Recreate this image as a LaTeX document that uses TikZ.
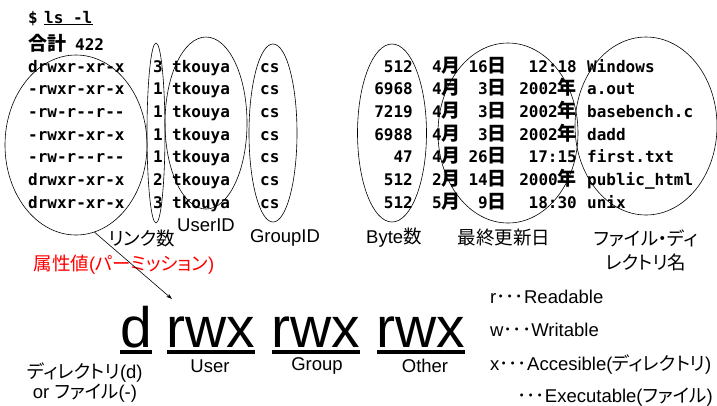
\documentclass[tikz,border=0pt]{standalone}
\usepackage{fontspec}
\setmainfont{Liberation Sans}
\setmonofont{DejaVu Sans Mono}
\newfontfamily\jp{Noto Sans CJK JP Medium}
\newfontfamily\jpp[RawFeature=+palt]{Noto Sans CJK JP}
\usetikzlibrary{shapes.geometric,arrows.meta}
\newcommand{\J}[1]{{\jp\fontsize{19}{19}\selectfont #1}}
\newcommand{\Jp}[1]{{\jpp #1}}
\tikzset{
  term/.style={inner sep=0pt, font=\ttfamily\bfseries\fontsize{16}{16}\selectfont},
  lbl/.style={inner sep=0pt, font=\fontsize{18.5}{24}\selectfont},
  big/.style={inner sep=0pt, anchor=base, text depth=0pt, font=\fontsize{57}{57}\selectfont},
  oval/.style={draw, ellipse, line width=0.6pt, inner sep=0pt},
  uline/.style={line width=4pt},
}
\begin{document}
\begin{tikzpicture}[x=1pt,y=-1pt]
\useasboundingbox (0,0) rectangle (717,405);
% header
\node[term, anchor=base west] (dollar) at (28,23) {\$};
\node[term, anchor=base west] (cmd) at (44,23) {ls -l};
\draw[line width=0.9pt] ([yshift=-1.2pt]cmd.base west) -- ([yshift=-1.2pt]cmd.base east);
\node[term, anchor=base west] (goukei) at (28,50) {\J{合計}};
\node[term, anchor=base west] (total) at (75,50) {422};
% rows
\foreach \pa/\lk/\sz/\mo/\dy/\tm/\nm [count=\i] in {
  drwxr-xr-x/3/512/4/16/12:18/Windows,
  -rwxr-xr-x/1/6968/4/3/2002\J{年}/a.out,
  -rw-r--r--/1/7219/4/3/2002\J{年}/basebench.c,
  -rwxr-xr-x/1/6988/4/3/2002\J{年}/dadd,
  -rw-r--r--/1/47/4/26/17:15/first.txt,
  drwxr-xr-x/2/512/2/14/2000\J{年}/public\_html,
  drwxr-xr-x/3/512/5/9/18:30/unix}
{
  \pgfmathsetmacro\yb{72+22.7*(\i-1)}
  \node[term, anchor=base west] (perm\i) at (28,\yb) {\pa};
  \node[term, anchor=base east] (link\i) at (163,\yb) {\lk};
  \node[term, anchor=base west] (user\i) at (172,\yb) {tkouya};
  \node[term, anchor=base west] (grp\i) at (260,\yb) {cs};
  \node[term, anchor=base east] (size\i) at (413,\yb) {\sz};
  \node[term, anchor=base west] (mon\i) at (432,\yb) {\mo\J{月}};
  \node[term, anchor=base east] (day\i) at (507,\yb) {\dy\J{日}};
  \node[term, anchor=base east] (time\i) at (577,\yb) {\tm};
  \node[term, anchor=base west] (name\i) at (587,\yb) {\nm};
}
% ellipses
\node[oval, minimum width=142pt, minimum height=180pt] (eperm) at (76,145) {};
\node[oval, minimum width=18pt, minimum height=180pt] (elink) at (156,133) {};
\node[oval, minimum width=82pt, minimum height=172pt] (euser) at (206,123) {};
\node[oval, minimum width=48pt, minimum height=178pt] (egroup) at (273,133) {};
\node[oval, minimum width=69pt, minimum height=178pt] (ebyte) at (392,133) {};
\node[oval, minimum width=140pt, minimum height=180pt] (edate) at (508,133) {};
\node[oval, minimum width=142pt, minimum height=178pt] (ename) at (646,126) {};
% column labels
\node[lbl] (llink) at (142,238) {\Jp{リンク数}};
\node[lbl] (luser) at (206,225) {UserID};
\node[lbl] (lgroup) at (285,238) {GroupID};
\node[lbl] (lbyte) at (394,238) {Byte\Jp{数}};
\node[lbl] (ldate) at (504,238) {\Jp{最終更新日}};
\node[lbl, align=center] (lname) at (646,250) {\Jp{ファイル・ディ}\\\Jp{レクトリ名}};
\node[lbl, text=red] (lattr) at (124,265) {\Jp{属性値}(\Jp{パーミッション})};
% arrow
\coordinate (arrtip) at (172,299);
\draw[line width=0.6pt, -{Stealth[length=6pt,width=4pt]}] (eperm.-78) -- (arrtip);
% big permission letters
\node[big] (bd) at (136,347) {d};
\node[big] (bu) at (211,347) {rwx};
\node[big] (bg) at (316,347) {rwx};
\node[big] (bo) at (421,347) {rwx};
\draw[uline] (120,352) -- (152,352);
\draw[uline] (167,352) -- (255,352);
\draw[uline] (272,352) -- (360,352);
\draw[uline] (377,352) -- (465,352);
\node[lbl] (luu) at (210,366) {User};
\node[lbl] (lgg) at (317,366) {Group};
\node[lbl] (loo) at (425,366) {Other};
\node[lbl, align=center, font=\fontsize{18.5}{20}\selectfont] (ldir) at (85,383) {\Jp{ディレクトリ}(d)\\or \Jp{ファイル}(-)};
% legend
\node[lbl, anchor=west] (kr) at (490,297) {r\Jp{･･･}Readable};
\node[lbl, anchor=west] (kw) at (490,330) {w\Jp{･･･}Writable};
\node[lbl, anchor=west] (kx) at (490,365) {x\Jp{･･･}Accesible(\Jp{ディレクトリ})};
\node[lbl, anchor=west] (ke) at (517,397) {\Jp{･･･}Executable(\Jp{ファイル})};
\end{tikzpicture}
\end{document}
